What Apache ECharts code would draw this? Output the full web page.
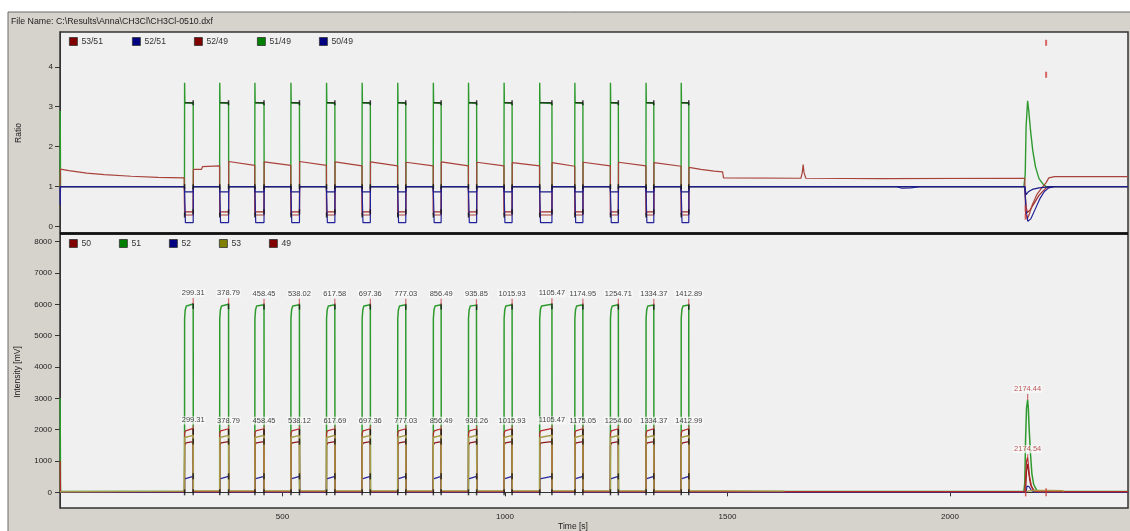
<!DOCTYPE html>
<html>
<head>
<meta charset="utf-8">
<script src="https://cdn.jsdelivr.net/npm/echarts@6/dist/echarts.min.js"></script>
<style>
  html, body { margin: 0; padding: 0; background: #ffffff; }
  #chart { width: 1130px; height: 531px; }
</style>
</head>
<body>
<div id="chart"></div>
<script>
// ---- Injection pulses -------------------------------------------------
// peak times (s) found on the mass 51 trace and on the mass 49 trace
const peakTimes51 = [299.31, 378.79, 458.45, 538.02, 617.58, 697.36, 777.03, 856.49, 935.85, 1015.93, 1105.47, 1174.95, 1254.71, 1334.37, 1412.89];
const peakTimes49 = [299.31, 378.79, 458.45, 538.12, 617.69, 697.36, 777.03, 856.49, 936.26, 1015.93, 1105.47, 1175.05, 1254.60, 1334.37, 1412.99];
// time at which each pulse switches on (s)
const pulseStarts = [280, 359, 438, 519, 599, 679, 759, 839, 918, 998, 1078, 1157, 1237, 1317, 1396];
// peak intensities (mV)
const peakHeights51 = [6010, 6000, 5990, 5990, 5990, 5990, 5985, 5990, 5975, 5990, 6000, 5990, 5990, 5980, 5980];
const peakHeights49 = [2040, 2030, 2030, 2030, 2030, 2030, 2030, 2030, 2020, 2030, 2040, 2030, 2030, 2030, 2030];
// plateau levels inside a pulse (mV): [at switch-on, a few seconds later]
const plateau51 = [5550, 5830, 5950];
const plateau49 = [1880, 1960];
const plateau50 = [1500, 1580, 1620];
const plateau52 = [430, 490, 510];
const plateau53 = [1750, 1820];

// ---- Ratio levels ------------------------------------------------------
// 53/51 drift before the first pulse
const ratio5351Pre = [[1.0, 1.44], [20, 1.40], [60, 1.34], [100, 1.30], [160, 1.26], [220, 1.23], [279, 1.22]];
// 53/51 right after each pulse and just before the next one
const ratio5351After = [1.43, 1.63, 1.62, 1.63, 1.62, 1.62, 1.61, 1.62, 1.61, 1.60, 1.60, 1.61, 1.61, 1.60];
const ratio5351Before = [1.52, 1.53, 1.53, 1.53, 1.52, 1.52, 1.52, 1.52, 1.52, 1.52, 1.51, 1.52, 1.52, 1.51];
// 53/51 after the last pulse up to the desorption event
const ratio5351Post = [[1413.4, 1.48], [1440, 1.43], [1470, 1.39], [1489, 1.37], [1491, 1.22], [1665, 1.21], [1668, 1.35], [1670, 1.55], [1672, 1.35], [1676, 1.21], [1850, 1.20], [2168, 1.21]];
// levels held inside a pulse
const pulseRatio5149 = [3.6, 3.1, 3.08];
const pulseRatio5249 = 0.37;
const pulseRatio5351 = 0.29;
const pulseRatio5049 = [0.87, 0.1];
const pulseRatio5251 = 0.87;

// ---- Desorption event near 2174 s --------------------------------------
const event51 = [[2166, 30], [2168, 300], [2170, 1800], [2172, 2700], [2174.44, 2950], [2176, 2700], [2178, 2000], [2181, 1200], [2184, 600], [2188, 250], [2195, 60], [2230, 30]];
const event49 = [[2168, 20], [2170, 500], [2172, 1000], [2174.54, 1120], [2176, 900], [2179, 500], [2183, 200], [2190, 40], [2200, 20]];
const event50 = [[2170, 10], [2172, 700], [2174.5, 900], [2177, 600], [2181, 250], [2188, 30], [2196, 10]];
const event52 = [[2171, 5], [2173, 200], [2175, 250], [2178, 180], [2183, 60], [2190, 5]];
const event53 = [[2172, 30], [2176, 90], [2186, 60], [2217, 60], [2253, 55], [2256, 30]];
const eventPeaks51 = [[2174.44, 2950]];
const eventPeaks49 = [[2174.54, 1120]];
const eventLimits = [[2170, 0], [2216, 0]];

const eventR5149 = [[2166, 1.0], [2169, 1.3], [2171, 2.5], [2174.4, 3.15], [2177, 2.9], [2181, 2.4], [2186, 1.9], [2192, 1.5], [2200, 1.2], [2210, 1.05], [2216, 1.0]];
const eventR5351 = [[2168, 1.21], [2170, 0.3], [2174, 0.2], [2178, 0.3], [2185, 0.55], [2195, 0.8], [2205, 0.95], [2216, 1.1], [2222, 1.22], [2235, 1.25], [2400, 1.25]];
const eventR5249 = [[2168, 1.0], [2171, 0.5], [2174, 0.35], [2180, 0.42], [2190, 0.6], [2200, 0.78], [2210, 0.9], [2216, 0.97], [2228, 1.0]];
const eventR5049 = [[2168, 1.0], [2171, 0.4], [2175, 0.13], [2182, 0.2], [2192, 0.45], [2202, 0.7], [2212, 0.88], [2222, 0.97], [2235, 1.0]];
const eventR5251 = [[2168, 1.0], [2171, 0.8], [2176, 0.87], [2185, 0.93], [2200, 0.97], [2215, 0.99], [2225, 1.0]];
const eventRLimits = [[2216, 4.6], [2216, 3.8], [2170, 0.25], [2170, 0.45]];

// ---- Axis ticks --------------------------------------------------------
const timeTicks = [500, 1000, 1500, 2000];
const ratioTicks = [0, 1, 2, 3, 4];
const intensityTicks = [0, 1000, 2000, 3000, 4000, 5000, 6000, 7000, 8000];

// ---- Build traces ------------------------------------------------------
const N = peakTimes51.length;
const i51 = [[0.3, 3000], [1.2, 30]];
const i49 = [[0.3, 1000], [1.2, 20]];
const i50 = [[0.3, 10]];
const i52 = [[0.3, 5]];
const i53 = [[0.3, 20], [279, 40]];
const r5149 = [[0.2, 1.0], [0.4, 2.9], [0.8, 2.1], [1.2, 1.0]];
const r5249 = [[0.2, 1.0]];
const r5351 = [[0.2, 1.0]].concat(ratio5351Pre);
const r5049 = [[0.2, 1.0], [0.5, 0.54], [1.2, 1.0]];
const r5251 = [[0.2, 1.0]];
const rPlateau = [];
const rMarks = [];
const iMarks = [];

for (let k = 0; k < N; k++) {
  const S = pulseStarts[k], P = peakTimes51[k], P49 = peakTimes49[k];
  const end = Math.max(P, P49);
  i51.push([S - 0.2, 30], [S, plateau51[0]], [S + 1.5, plateau51[1]], [S + 4, plateau51[2]], [P, peakHeights51[k]], [end + 0.3, 30]);
  i49.push([S - 0.2, 20], [S, plateau49[0]], [S + 2, plateau49[1]], [P49, peakHeights49[k]], [end + 0.3, 20]);
  i50.push([S - 0.2, 10], [S, plateau50[0]], [S + 3, plateau50[1]], [end, plateau50[2]], [end + 0.3, 10]);
  i52.push([S - 0.2, 5], [S, plateau52[0]], [S + 3, plateau52[1]], [end, plateau52[2]], [end + 0.3, 5]);
  i53.push([S - 0.2, 45], [S, plateau53[0]], [end, plateau53[1]], [end + 0.3, 45]);

  const before = k === 0 ? 1.22 : ratio5351Before[k - 1];
  r5149.push([S - 0.3, 1.0], [S, pulseRatio5149[0]], [S + 0.6, pulseRatio5149[1]], [end, pulseRatio5149[2]], [end + 0.3, 1.0]);
  r5249.push([S - 0.3, 1.0], [S, pulseRatio5249], [end, pulseRatio5249], [end + 0.3, 1.0]);
  r5351.push([S - 0.3, before], [S, pulseRatio5351], [end, pulseRatio5351]);
  if (k < N - 1) {
    r5351.push([end + 0.3, ratio5351After[k]]);
    if (k === 0) r5351.push([318, 1.43], [320, 1.50]);
  }
  r5049.push([S - 0.3, 1.0], [S, pulseRatio5049[0]], [S + 1.5, pulseRatio5049[0]], [S + 1.8, pulseRatio5049[1]], [end, pulseRatio5049[1]], [end + 0.3, 1.0]);
  r5251.push([S - 0.3, 1.0], [S, pulseRatio5251], [end, pulseRatio5251], [end + 0.3, 1.0]);

  rPlateau.push([S + 1, pulseRatio5149[1]], [end, pulseRatio5149[1]], [end, null]);
  rMarks.push([end, pulseRatio5149[1]], [S, 1.0], [end, 1.0], [end, pulseRatio5249], [S, pulseRatio5351]);
  iMarks.push([S, 0], [end, 0], [end, peakHeights51[k] - 60], [end, peakHeights49[k] - 110], [end, plateau50[2]], [end, plateau52[2]]);
}

// after the pulse train
r5351.push(...ratio5351Post, ...eventR5351);
r5149.push([2166, 1.0]); r5149.push(...eventR5149); r5149.push([2400, 1.0]);
r5249.push([2168, 1.0]); r5249.push(...eventR5249); r5249.push([2400, 1.0]);
r5049.push([1880, 1.0], [1892, 0.96], [1912, 0.97], [1932, 1.0]);
r5049.push(...eventR5049); r5049.push([2400, 1.0]);
r5251.push(...eventR5251); r5251.push([2400, 1.0]);

i51.push(...event51, [2400, 30]);
i49.push([2168, 20], ...event49, [2400, 20]);
i50.push([2170, 10], ...event50, [2400, 10]);
i52.push([2171, 5], ...event52, [2400, 5]);
i53.push([1500, 45], [1628, 40], [1629, null], [2172, null], ...event53);

// ---- Chart -------------------------------------------------------------
const FONT = 'Liberation Sans, Arial, sans-serif';
const TXT = '#222';

function trace(name, data, color, ax, z, width) {
  return {
    name, type: 'line', data, xAxisIndex: ax, yAxisIndex: ax,
    symbol: 'none', showSymbol: false, connectNulls: false,
    lineStyle: { color, width: width || 1.2 }, itemStyle: { color },
    animation: false, silent: true, z: z || 2
  };
}
function marks(name, data, color, ax, size) {
  return {
    name, type: 'scatter', data, xAxisIndex: ax, yAxisIndex: ax,
    symbol: 'rect', symbolSize: size, itemStyle: { color },
    animation: false, silent: true, z: 6
  };
}
// peak marker: short red stroke rising from the peak, with its time written above
function peakLabels(name, data, color, ax, tick) {
  return {
    name, type: 'scatter', data, xAxisIndex: ax, yAxisIndex: ax,
    symbol: 'rect', symbolSize: [1.2, tick], symbolOffset: [0, '-50%'],
    itemStyle: { color: '#c84a4a' },
    label: {
      show: true, position: 'top', distance: 1,
      formatter: p => p.value[0].toFixed(2),
      fontFamily: FONT, fontSize: 7.5, color,
      backgroundColor: 'rgba(250,250,250,0.9)', padding: [0, 1]
    },
    animation: false, silent: true, z: 8
  };
}
function legendAt(name, left, top, color) {
  return {
    left, top, itemWidth: 8, itemHeight: 8, itemGap: 0, padding: 0,
    icon: 'rect', selectedMode: false,
    textStyle: { fontFamily: FONT, fontSize: 8.6, color: '#333', padding: [0, 0, 0, -1] },
    data: [{ name, itemStyle: { color, borderColor: '#333', borderWidth: 0.8 } }]
  };
}

const axisLineStyle = { color: '#333', width: 1 };
const plain = v => String(v);

const option = {
  backgroundColor: '#ffffff',
  animation: false,
  graphic: [
    { type: 'rect', shape: { x: 8, y: 12, width: 1130, height: 530 }, style: { fill: '#d6d3cd', stroke: '#6a6a6a', lineWidth: 1 }, z: -10, silent: true },
    { type: 'text', left: 11, top: 17.5, style: { text: 'File Name: C:\\Results\\Anna\\CH3Cl\\CH3Cl-0510.dxf', font: '8.8px ' + FONT, fill: TXT }, silent: true },
    { type: 'text', x: 19, y: 133, rotation: Math.PI / 2, style: { text: 'Ratio', font: '8.5px ' + FONT, fill: TXT, align: 'center', verticalAlign: 'middle' }, silent: true },
    { type: 'text', x: 18, y: 372, rotation: Math.PI / 2, style: { text: 'Intensity [mV]', font: '8.5px ' + FONT, fill: TXT, align: 'center', verticalAlign: 'middle' }, silent: true },
    { type: 'text', x: 573, y: 527, style: { text: 'Time [s]', font: '8.5px ' + FONT, fill: TXT, align: 'center', verticalAlign: 'middle' }, silent: true },
    { type: 'line', shape: { x1: 60, y1: 233.5, x2: 1128, y2: 233.5 }, style: { stroke: '#111', lineWidth: 2.5 }, z: 50, silent: true }
  ],
  grid: [
    { left: 60, top: 32, width: 1068, height: 201, show: true, backgroundColor: '#f0f0f0', borderColor: '#333', borderWidth: 1.5 },
    { left: 60, top: 234, width: 1068, height: 274, show: true, backgroundColor: '#f0f0f0', borderColor: '#333', borderWidth: 1.5 }
  ],
  xAxis: [
    { type: 'value', gridIndex: 0, min: 0, max: 2400, axisLine: { show: false }, axisTick: { show: false }, axisLabel: { show: false }, splitLine: { show: false } },
    { type: 'value', gridIndex: 1, min: 0, max: 2400,
      axisLine: { show: true, lineStyle: axisLineStyle },
      axisTick: { show: true, length: 4, lineStyle: axisLineStyle, customValues: timeTicks },
      axisLabel: { show: true, margin: 5, fontFamily: FONT, fontSize: 8, color: TXT, customValues: timeTicks, formatter: plain },
      splitLine: { show: false } }
  ],
  yAxis: [
    { type: 'value', gridIndex: 0, min: -0.16, max: 4.87,
      axisLine: { show: true, lineStyle: axisLineStyle },
      axisTick: { show: true, length: 5, lineStyle: axisLineStyle, customValues: ratioTicks },
      axisLabel: { show: true, margin: 7, fontFamily: FONT, fontSize: 8, color: TXT, customValues: ratioTicks, formatter: plain },
      splitLine: { show: false } },
    { type: 'value', gridIndex: 1, min: -500, max: 8245,
      axisLine: { show: true, lineStyle: axisLineStyle },
      axisTick: { show: true, length: 5, lineStyle: axisLineStyle, customValues: intensityTicks },
      axisLabel: { show: true, margin: 8, fontFamily: FONT, fontSize: 8, color: TXT, customValues: intensityTicks, formatter: plain },
      splitLine: { show: false } }
  ],
  legend: [
    legendAt('53/51', 69, 37, '#800000'),
    legendAt('52/51', 132, 37, '#000080'),
    legendAt('52/49', 194, 37, '#800000'),
    legendAt('51/49', 257, 37, '#008000'),
    legendAt('50/49', 319, 37, '#000080'),
    legendAt('50', 69, 239, '#800000'),
    legendAt('51', 119, 239, '#008000'),
    legendAt('52', 169, 239, '#000080'),
    legendAt('53', 219, 239, '#808000'),
    legendAt('49', 269, 239, '#800000')
  ],
  series: [
    // ratio panel
    trace('51/49', r5149, '#2e9a2e', 0, 2, 1.4),
    trace('52/49', r5249, '#a02a2a', 0, 3),
    trace('53/51', r5351, '#a8423a', 0, 3),
    trace('50/49', r5049, '#22229a', 0, 4),
    trace('52/51', r5251, '#1c1c88', 0, 4),
    trace('51/49', rPlateau, '#111111', 0, 5),
    marks('51/49', rMarks, '#111111', 0, [1.5, 5]),
    marks('52/49', eventRLimits, '#d04040', 0, [2, 6]),
    // intensity panel
    trace('51', i51, '#2e9a2e', 1, 2, 1.5),
    trace('50', i50, '#8c1c1c', 1, 3),
    trace('52', i52, '#2a2a9a', 1, 3),
    trace('49', i49, '#b82a2a', 1, 4),
    trace('53', i53, '#a89a48', 1, 4, 1.4),
    marks('49', iMarks, '#111111', 1, [1.5, 6]),
    marks('49', eventLimits, '#c83a3a', 1, [1.5, 8]),
    peakLabels('51', peakTimes51.map((t, k) => [t, peakHeights51[k]]), '#111', 1, 6),
    peakLabels('49', peakTimes49.map((t, k) => [t, peakHeights49[k]]), '#111', 1, 3),
    peakLabels('51', eventPeaks51, '#b03030', 1, 6),
    peakLabels('49', eventPeaks49, '#b03030', 1, 3)
  ]
};

const chart = echarts.init(document.getElementById('chart'), null, { renderer: 'canvas' });
chart.setOption(option);
</script>
</body>
</html>
